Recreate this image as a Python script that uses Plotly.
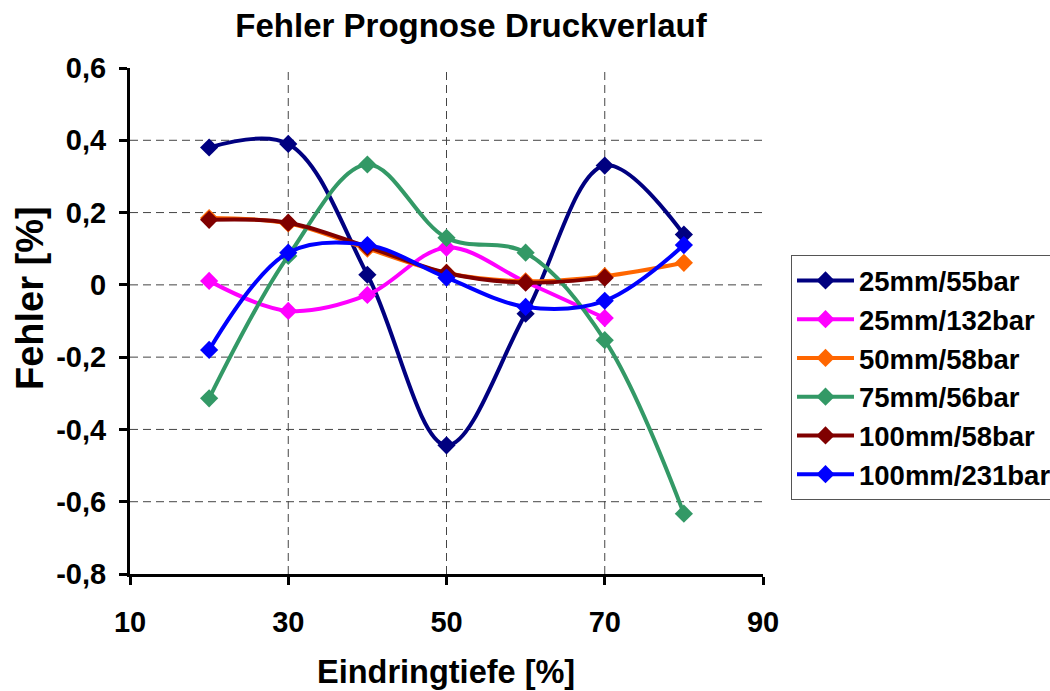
import plotly.graph_objects as go

x_vals = [20, 30, 40, 50, 60, 70, 80]
x_short = [20, 30, 40, 50, 60, 70]

s_25_55 = [0.38, 0.39, 0.028, -0.444, -0.08, 0.33, 0.139]
s_25_132 = [0.011, -0.072, -0.028, 0.103, 0.008, -0.092]
s_50_58 = [0.185, 0.17, 0.10, 0.033, 0.01, 0.024, 0.061]
s_75_56 = [-0.314, 0.08, 0.333, 0.13, 0.089, -0.153, -0.633]
s_100_58 = [0.18, 0.172, 0.105, 0.033, 0.006, 0.02]
s_100_231 = [-0.18, 0.089, 0.11, 0.02, -0.061, -0.044, 0.11]

series = [
    ("25mm/55bar", x_vals, s_25_55, "#000080"),
    ("25mm/132bar", x_short, s_25_132, "#FF00FF"),
    ("50mm/58bar", x_vals, s_50_58, "#FF6600"),
    ("75mm/56bar", x_vals, s_75_56, "#339966"),
    ("100mm/58bar", x_short, s_100_58, "#800000"),
    ("100mm/231bar", x_vals, s_100_231, "#0000FF"),
]

x_ticks = [10, 30, 50, 70, 90]
y_ticks = [-0.8, -0.6, -0.4, -0.2, 0, 0.2, 0.4, 0.6]
y_ticktext = ["-0,8", "-0,6", "-0,4", "-0,2", "0", "0,2", "0,4", "0,6"]

FONT = "Liberation Sans, Arial, sans-serif"

fig = go.Figure()
for name, xs, ys, col in series:
    fig.add_trace(go.Scatter(
        x=xs, y=ys, name=name, mode="lines+markers",
        line=dict(color=col, width=4, shape="spline", smoothing=1.0),
        marker=dict(symbol="diamond", size=14, color=col),
    ))

# dashed gridlines at interior ticks
for xv in x_ticks[1:-1]:
    fig.add_shape(type="line", xref="x", yref="paper", x0=xv, x1=xv, y0=0, y1=1,
                  line=dict(color="#444444", width=1, dash="8px,5px"), layer="below")
for yv in y_ticks[1:-1]:
    fig.add_shape(type="line", xref="paper", yref="y", x0=0, x1=1, y0=yv, y1=yv,
                  line=dict(color="#444444", width=1, dash="8px,5px"), layer="below")

fig.update_layout(
    width=1050, height=691,
    margin=dict(l=130, r=287, t=68, b=117, autoexpand=False),
    plot_bgcolor="white", paper_bgcolor="white",
    font=dict(family=FONT, color="black", weight="bold"),
    title=dict(text="Fehler Prognose Druckverlauf", x=471/1050, xanchor="center",
               xref="container", y=1-25/691, yanchor="middle", yref="container",
               font=dict(size=33, family=FONT, color="black", weight="bold")),
    xaxis=dict(range=[10, 90], tickvals=x_ticks, ticktext=[str(v) for v in x_ticks],
               showgrid=False, zeroline=False, showline=True, linecolor="black", linewidth=3,
               ticks="outside", ticklen=8, tickwidth=3, tickcolor="black",
               ticklabelstandoff=12,
               tickfont=dict(size=29, family=FONT, color="black", weight="bold")),
    yaxis=dict(range=[-0.8, 0.6], tickvals=y_ticks, ticktext=y_ticktext,
               showgrid=False, zeroline=False, showline=True, linecolor="black", linewidth=3,
               ticks="outside", ticklen=8, tickwidth=3, tickcolor="black",
               ticklabelstandoff=7,
               tickfont=dict(size=29, family=FONT, color="black", weight="bold")),
    legend=dict(x=(791-130)/633, xanchor="left", y=(574-255)/506, yanchor="top",
                bgcolor="white", bordercolor="#555555", borderwidth=1,
                itemwidth=57,
                font=dict(size=27.5, family=FONT, color="black", weight="bold")),
    showlegend=True,
)

fig.add_annotation(text="Eindringtiefe [%]", xref="paper", yref="paper",
                   x=(446-130)/633, y=-(672-574)/506, xanchor="center", yanchor="middle",
                   showarrow=False, font=dict(size=32.5, family=FONT, color="black", weight="bold"))
fig.add_annotation(text="Fehler [%]", xref="paper", yref="paper",
                   x=-(130-30)/633, y=(574-298)/506, xanchor="center", yanchor="middle",
                   textangle=-90, showarrow=False,
                   font=dict(size=38, family=FONT, color="black", weight="bold"))

fig.write_html("out.html")
